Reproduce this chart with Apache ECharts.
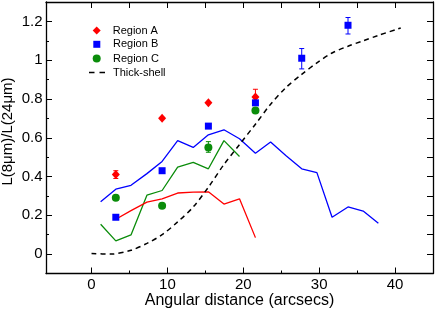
<!DOCTYPE html>
<html><head><meta charset="utf-8">
<script src="https://cdn.jsdelivr.net/npm/echarts@6/dist/echarts.min.js"></script>
<style>html,body{margin:0;padding:0;background:#fff}#c{width:436px;height:309px}</style>
</head><body><div id="c"></div>
<script>
// Scatter points [x, y]
const regionA = [[3.2,0.41],[9.3,0.70],[15.4,0.78],[21.6,0.81]];
const regionB = [[3.2,0.19],[9.3,0.43],[15.4,0.66],[21.6,0.78],[27.7,1.01],[33.8,1.18]];
const regionC = [[3.2,0.29],[9.3,0.25],[15.4,0.55],[21.6,0.74]];
// Error bars [x, low, high]
const errA = [[3.2,0.39,0.43],[21.6,0.77,0.85]];
const errB = [[27.7,0.955,1.06],[33.8,1.135,1.22]];
const errC = [[15.4,0.525,0.58]];
// Profile lines
const lineBlue = [[1.2,0.27],[3.2,0.335],[5.2,0.355],[7.3,0.415],[9.3,0.478],[11.35,0.585],[13.4,0.55],[15.4,0.615],[17.45,0.641],[19.5,0.595],[21.6,0.52],[23.6,0.578],[25.6,0.508],[27.7,0.44],[29.7,0.42],[31.7,0.19],[33.8,0.243],[35.8,0.222],[37.8,0.159]];
const lineGreen = [[1.2,0.154],[3.2,0.068],[5.2,0.099],[7.3,0.304],[9.3,0.328],[11.35,0.448],[13.4,0.473],[15.4,0.44],[17.45,0.585],[19.5,0.503]];
const lineRed = [[3.2,0.18],[5.2,0.224],[7.3,0.268],[9.3,0.285],[11.35,0.315],[13.4,0.32],[15.4,0.321],[17.45,0.258],[19.5,0.285],[21.6,0.085]];
const thickShell = [[0,0.003],[2.5,0.0],[5.2,0.02],[7.3,0.055],[9.3,0.10],[11.35,0.166],[13.4,0.243],[15.4,0.345],[17.45,0.462],[19.5,0.565],[21.6,0.67],[23.6,0.773],[25.6,0.858],[27.7,0.927],[29.7,0.986],[31.7,1.037],[33.8,1.072],[35.8,1.10],[37.8,1.128],[40.75,1.166]];
// Ticks
const xMajor = [0,10,20,30,40];
const xMinor = [5,15,25,35];
const xAll = [0,5,10,15,20,25,30,35,40];
const yMajor = [0,0.2,0.4,0.6,0.8,1,1.2];
const yMinor = [0.1,0.3,0.5,0.7,0.9,1.1];
const yAll = [0,0.1,0.2,0.3,0.4,0.5,0.6,0.7,0.8,0.9,1,1.1,1.2];
// Legend names
const legendNames = ['Region A','Region B','Region C','Thick-shell'];

const RED='#ff0000', BLUE='#0000ff', GREEN='#0a8c0a';
const font = 'Liberation Sans, Arial, sans-serif';

function errSeries(data, color){
  return {
    type:'custom', data:data, silent:true, z:3,
    renderItem:function(params, api){
      const x=api.value(0), lo=api.value(1), hi=api.value(2);
      const p1=api.coord([x,lo]), p2=api.coord([x,hi]);
      const w=2.5;
      const st={stroke:color,lineWidth:1};
      return {type:'group',children:[
        {type:'line',shape:{x1:p1[0],y1:p1[1],x2:p2[0],y2:p2[1]},style:st},
        {type:'line',shape:{x1:p1[0]-w,y1:p1[1],x2:p1[0]+w,y2:p1[1]},style:st},
        {type:'line',shape:{x1:p2[0]-w,y1:p2[1],x2:p2[0]+w,y2:p2[1]},style:st}
      ]};
    }
  };
}
const xRange={min:-6,max:45}, yRange={min:-0.1,max:1.3};
function tickAxis(type, position, values, len, showLine){
  return Object.assign({type:'value',position:position,gridIndex:0},
    type==='x'?xRange:yRange,
    {axisLine:{show:showLine,onZero:false,lineStyle:{color:'#000',width:1.3}},
     axisLabel:{show:false},splitLine:{show:false},
     axisTick:{show:true,inside:true,length:len,customValues:values,lineStyle:{color:'#000',width:1}}});
}
function legendItem(name, icon, left, top, w, h, padLeft){
  return {orient:'vertical', left:left, top:top, padding:0, itemWidth:w, itemHeight:h,
    selectedMode:false,
    textStyle:{fontFamily:font,fontSize:11,color:'#000',padding:[0,0,0,padLeft]},
    data:[{name:name, icon:icon}]};
}

const option = {
  animation:false,
  grid:{left:46,right:3,top:2,bottom:35.5,containLabel:false,outerBoundsMode:'none'},
  legend:[
    legendItem(legendNames[0],'diamond',92.7,25,8,8,7),
    legendItem(legendNames[1],'rect',93.3,38.8,7,7,7.7),
    legendItem(legendNames[2],'circle',92.7,53,8,8,7.3),
    legendItem(legendNames[3],'path://M0,0h5.5v1.5h-5.5z M10.5,0h5.5v1.5h-5.5z',89,67,16,1.5,3)
  ],
  xAxis:[
    Object.assign({type:'value',position:'bottom',
      name:'Angular distance (arcsecs)',nameLocation:'middle',nameGap:19.5,nameMoveOverlap:false,
      nameTextStyle:{fontFamily:font,fontSize:16,color:'#000'},
      axisLine:{show:true,onZero:false,lineStyle:{color:'#000',width:1.3}},
      axisTick:{show:true,inside:true,length:6,customValues:xMajor,lineStyle:{color:'#000',width:1}},
      axisLabel:{customValues:xMajor,fontFamily:font,fontSize:15,color:'#000',margin:4},
      splitLine:{show:false}},xRange),
    tickAxis('x','bottom',xMinor,3,false),
    tickAxis('x','top',xAll,6,true)
  ],
  yAxis:[
    Object.assign({type:'value',position:'left',
      name:'L(8μm)/L(24μm)',nameLocation:'middle',nameGap:31,nameMoveOverlap:false,
      nameTextStyle:{fontFamily:font,fontSize:15,color:'#000',padding:[0,0,0,12.5]},
      axisLine:{show:true,onZero:false,lineStyle:{color:'#000',width:1.3}},
      axisTick:{show:true,inside:true,length:6,customValues:yMajor,lineStyle:{color:'#000',width:1}},
      axisLabel:{customValues:yMajor,fontFamily:font,fontSize:15,color:'#000',margin:3.5,
        formatter:function(v){return String(+(+v).toFixed(1));}},
      splitLine:{show:false}},yRange),
    tickAxis('y','left',yMinor,3,false),
    tickAxis('y','right',yAll,6,true)
  ],
  series:[
    {name:'lineBlue',type:'line',data:lineBlue,symbol:'none',lineStyle:{color:BLUE,width:1.3},itemStyle:{color:BLUE},z:2},
    {name:'lineGreen',type:'line',data:lineGreen,symbol:'none',lineStyle:{color:GREEN,width:1.3},itemStyle:{color:GREEN},z:2},
    {name:'lineRed',type:'line',data:lineRed,symbol:'none',lineStyle:{color:RED,width:1.3},itemStyle:{color:RED},z:2},
    {name:legendNames[3],type:'line',data:thickShell,symbol:'none',smooth:0.3,
      lineStyle:{color:'#000',width:1.5,type:[5,4]},itemStyle:{color:'#000'},z:2},
    errSeries(errA,RED), errSeries(errB,BLUE), errSeries(errC,GREEN),
    {name:legendNames[0],type:'scatter',data:regionA,symbol:'diamond',symbolSize:[8,9],itemStyle:{color:RED,opacity:1},z:4},
    {name:legendNames[1],type:'scatter',data:regionB,symbol:'rect',symbolSize:7,itemStyle:{color:BLUE,opacity:1},z:4},
    {name:legendNames[2],type:'scatter',data:regionC,symbol:'circle',symbolSize:8,itemStyle:{color:GREEN,opacity:1},z:4}
  ]
};
const chart = echarts.init(document.getElementById('c'),null,{renderer:'canvas'});
chart.setOption(option);
</script></body></html>
